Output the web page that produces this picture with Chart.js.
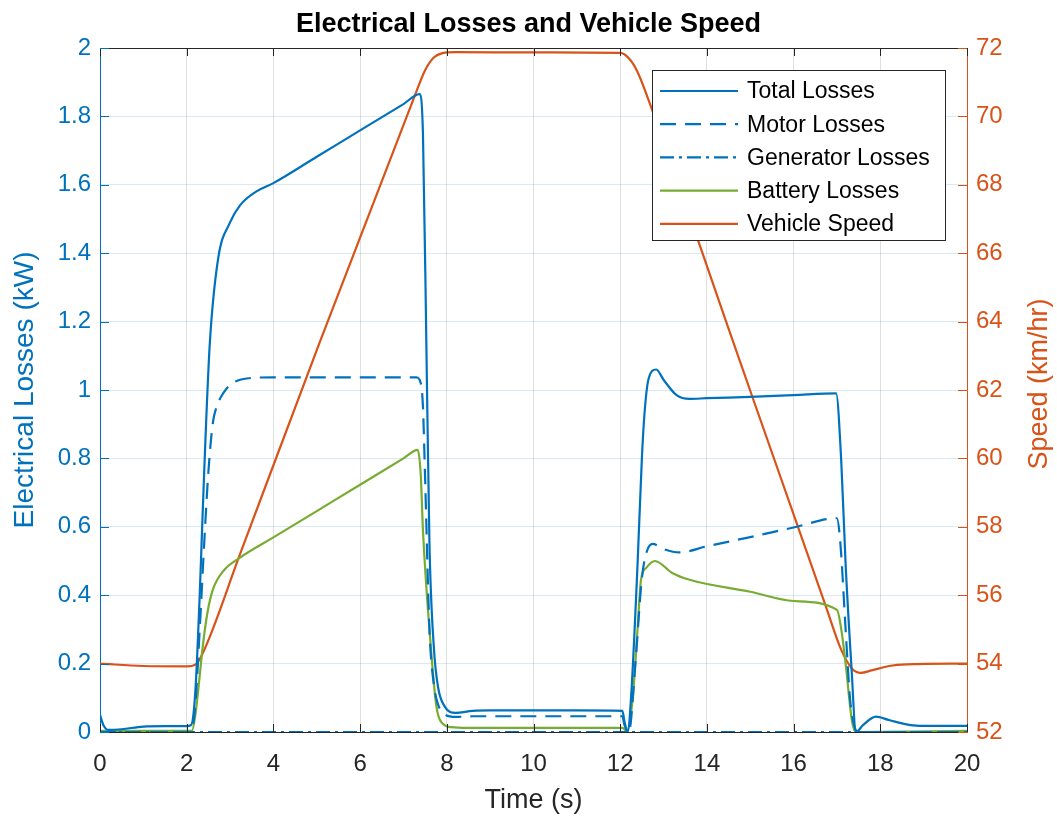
<!DOCTYPE html>
<html>
<head>
<meta charset="utf-8">
<title>Electrical Losses and Vehicle Speed</title>
<script src="https://cdn.jsdelivr.net/npm/chart.js@4.4.1/dist/chart.umd.min.js"></script>
<style>
  body { margin: 0; background: #fff; }
</style>
</head>
<body>
<canvas id="lossChart" width="1057" height="823"></canvas>
<script>
// Series data
const timeTotal = [0, 0.08, 0.2, 0.5, 1.0, 1.5, 2.0, 2.1, 2.2, 2.3, 2.4, 2.53, 2.72, 3.0, 3.23, 3.6, 4.0, 5.0, 6.0, 7.0,
    7.37, 7.45, 7.53, 7.6, 7.7, 7.8, 7.95, 8.2, 8.6, 9, 10, 11, 12.05, 12.1, 12.17, 12.25, 12.4, 12.5, 12.56, 12.65,
    12.83, 13.0, 13.3, 13.6, 14, 15, 16, 16.98, 17.1, 17.2, 17.33, 17.44, 17.6, 17.9, 18.2, 18.7, 19, 20];
const totalLosses = [0.05, 0.02, 0.006, 0.008, 0.016, 0.017, 0.017, 0.02, 0.12, 0.4, 0.75, 1.13, 1.38, 1.49, 1.54, 1.58, 1.605, 1.682, 1.759, 1.836,
    1.865, 1.75, 1.12, 0.55, 0.25, 0.13, 0.075, 0.056, 0.062, 0.063, 0.063, 0.063, 0.062, 0.03, 0.0, 0.1, 0.49, 0.80, 0.93, 1.03,
    1.06, 1.03, 0.985, 0.974, 0.976, 0.98, 0.985, 0.99, 0.79, 0.49, 0.2, 0.0, 0.02, 0.045, 0.035, 0.02, 0.018, 0.018];

const timeMotor = [0, 2.1, 2.2, 2.3, 2.42, 2.5, 2.6, 2.72, 2.84, 3.0, 3.23, 3.6, 4, 7.3, 7.4, 7.45, 7.5, 7.6, 7.7, 7.8,
    7.95, 8.2, 8.6, 12.05, 12.1, 12.2, 12.35, 12.5, 12.62, 12.75, 13.0, 13.36, 14, 15, 16, 17.0, 17.08, 17.2, 17.3, 17.42, 17.5, 20];
const motorLosses = [0, 0, 0.08, 0.3, 0.59, 0.76, 0.90, 0.96, 0.99, 1.015, 1.03, 1.036, 1.037, 1.037, 1.02, 0.95, 0.74, 0.3, 0.14, 0.08,
    0.052, 0.044, 0.046, 0.046, 0.02, 0.0, 0.2, 0.45, 0.53, 0.55, 0.535, 0.525, 0.543, 0.57, 0.598, 0.625, 0.55, 0.3, 0.1, 0.01, 0, 0];

const timeGenerator = [0, 20];
const generatorLosses = [0, 0];

const timeBattery = [0, 2.12, 2.2, 2.28, 2.37, 2.48, 2.6, 2.84, 3.23, 4, 5, 6, 7, 7.33, 7.4, 7.45, 7.6, 7.76, 7.9, 8.1,
    8.5, 12.05, 12.15, 12.29, 12.4, 12.48, 12.6, 12.8, 13.2, 13.6, 15, 16, 17.0, 17.1, 17.2, 17.35, 17.45, 20];
const batteryLosses = [0.003, 0.003, 0.05, 0.14, 0.25, 0.35, 0.415, 0.47, 0.51, 0.569, 0.646, 0.723, 0.80, 0.825, 0.75, 0.59, 0.3, 0.075, 0.025, 0.014,
    0.012, 0.012, 0.003, 0.1, 0.3, 0.445, 0.48, 0.50, 0.465, 0.445, 0.41, 0.383, 0.357, 0.3, 0.2, 0.03, 0.0, 0.003];

const timeSpeed = [0, 1.0, 2.0, 2.2, 2.35, 3.23, 5.07, 7.26, 7.5, 7.7, 7.9, 8.2, 10, 12.0, 12.2, 12.4, 12.72, 14.58, 16.75, 17.1,
    17.35, 17.55, 17.8, 18.2, 18.6, 20];
const vehicleSpeed = [54.0, 53.93, 53.92, 53.97, 54.25, 57.2, 63.4, 70.6, 71.35, 71.72, 71.85, 71.88, 71.87, 71.86, 71.7, 71.3, 70.25, 63.5, 55.65, 54.4,
    53.85, 53.73, 53.8, 53.93, 53.98, 54.0];

// Axis ticks
const timeTicks = [0, 2, 4, 6, 8, 10, 12, 14, 16, 18, 20];
const lossTicks = [0, 0.2, 0.4, 0.6, 0.8, 1, 1.2, 1.4, 1.6, 1.8, 2];
const speedTicks = [52, 54, 56, 58, 60, 62, 64, 66, 68, 70, 72];

const BLUE = '#0072BD';
const ORANGE = '#D95319';
const GREEN = '#77AC30';
const DARK = '#262626';
const FONT = '"Liberation Sans", Arial, Helvetica, sans-serif';

function pairs(xs, ys) {
    return xs.map((x, i) => ({ x: x, y: ys[i] }));
}

function fixTicks(values) {
    return (scale) => {
        scale.ticks = values.map(v => ({ value: v }));
    };
}

// Inward tick marks, top box line and right axis title (MATLAB look)
const axesDecor = {
    id: 'axesDecor',
    afterDatasetsDraw(chart) {
        const { ctx, chartArea: a, scales } = chart;
        ctx.save();
        ctx.lineWidth = 1;

        ctx.strokeStyle = DARK;
        ctx.beginPath();
        ctx.moveTo(a.left, a.top + 0.5);
        ctx.lineTo(a.right, a.top + 0.5);
        timeTicks.forEach(v => {
            const px = Math.round(scales.x.getPixelForValue(v)) + 0.5;
            ctx.moveTo(px, a.bottom);
            ctx.lineTo(px, a.bottom - 8);
            ctx.moveTo(px, a.top);
            ctx.lineTo(px, a.top + 8);
        });
        ctx.stroke();

        ctx.strokeStyle = BLUE;
        ctx.beginPath();
        lossTicks.forEach(v => {
            const py = Math.round(scales.y.getPixelForValue(v)) + 0.5;
            ctx.moveTo(a.left, py);
            ctx.lineTo(a.left + 9, py);
        });
        ctx.stroke();

        ctx.strokeStyle = ORANGE;
        ctx.beginPath();
        speedTicks.forEach(v => {
            const py = Math.round(scales.y1.getPixelForValue(v)) + 0.5;
            ctx.moveTo(a.right, py);
            ctx.lineTo(a.right - 9, py);
        });
        ctx.stroke();

        // right axis label reads bottom to top
        ctx.translate(1040, 384);
        ctx.rotate(-Math.PI / 2);
        ctx.fillStyle = ORANGE;
        ctx.font = '27px ' + FONT;
        ctx.textAlign = 'center';
        ctx.textBaseline = 'middle';
        ctx.fillText('Speed (km/hr)', 0, 0);
        ctx.restore();
    }
};

// Legend box inside the axes, top right
const boxLegend = {
    id: 'boxLegend',
    afterDraw(chart) {
        const { ctx } = chart;
        const x0 = 652, y0 = 70, w = 293, h = 170;
        ctx.save();
        ctx.fillStyle = '#fff';
        ctx.fillRect(x0, y0, w, h);
        ctx.strokeStyle = DARK;
        ctx.lineWidth = 1;
        ctx.strokeRect(x0 + 0.5, y0 + 0.5, w, h);
        ctx.font = '23px ' + FONT;
        ctx.textBaseline = 'middle';
        chart.data.datasets.forEach((ds, i) => {
            const yy = y0 + 21 + i * 33.2;
            ctx.strokeStyle = ds.borderColor;
            ctx.lineWidth = ds.borderWidth;
            ctx.setLineDash(ds.borderDash || []);
            ctx.beginPath();
            ctx.moveTo(x0 + 8, yy);
            ctx.lineTo(x0 + 86, yy);
            ctx.stroke();
            ctx.setLineDash([]);
            ctx.fillStyle = '#000';
            ctx.fillText(ds.label, x0 + 95, yy + 1);
        });
        ctx.restore();
    }
};

const lineStyle = {
    borderWidth: 2.2,
    pointRadius: 0,
    cubicInterpolationMode: 'monotone',
    fill: false
};

const ctx = document.getElementById('lossChart').getContext('2d');
const lossChart = new Chart(ctx, {
    type: 'line',
    data: {
        datasets: [
            { ...lineStyle, label: 'Total Losses', data: pairs(timeTotal, totalLosses), borderColor: BLUE, yAxisID: 'y' },
            { ...lineStyle, label: 'Motor Losses', data: pairs(timeMotor, motorLosses), borderColor: BLUE, borderDash: [16, 9], yAxisID: 'y' },
            { ...lineStyle, label: 'Generator Losses', data: pairs(timeGenerator, generatorLosses), borderColor: BLUE, borderDash: [14, 5, 3, 5], yAxisID: 'y' },
            { ...lineStyle, label: 'Battery Losses', data: pairs(timeBattery, batteryLosses), borderColor: GREEN, yAxisID: 'y' },
            { ...lineStyle, label: 'Vehicle Speed', data: pairs(timeSpeed, vehicleSpeed), borderColor: ORANGE, yAxisID: 'y1' }
        ]
    },
    options: {
        responsive: false,
        animation: false,
        layout: { padding: 0 },
        plugins: {
            legend: { display: false },
            tooltip: { enabled: false },
            title: {
                display: true,
                text: 'Electrical Losses and Vehicle Speed',
                color: '#000',
                font: { family: FONT, size: 27, weight: 'bold' },
                padding: { top: 8, bottom: 7.6 }
            }
        },
        scales: {
            x: {
                type: 'linear',
                min: 0,
                max: 20,
                afterFit: (s) => { s.height = 91; },
                afterBuildTicks: fixTicks(timeTicks),
                grid: { color: 'rgba(38,38,38,0.15)', drawTicks: false },
                border: { color: DARK },
                ticks: { color: DARK, padding: 18, font: { family: FONT, size: 24 } },
                title: {
                    display: true,
                    text: 'Time (s)',
                    color: DARK,
                    font: { family: FONT, size: 27 },
                    padding: { top: 0, bottom: 6 }
                }
            },
            y: {
                type: 'linear',
                position: 'left',
                min: 0,
                max: 2,
                afterFit: (s) => { s.width = 100; },
                afterBuildTicks: fixTicks(lossTicks),
                grid: { color: 'rgba(0,114,189,0.15)', drawTicks: false },
                border: { color: BLUE },
                ticks: {
                    color: BLUE,
                    padding: 9,
                    font: { family: FONT, size: 24 },
                    callback: (v) => String(Math.round(v * 10) / 10)
                },
                title: {
                    display: true,
                    text: 'Electrical Losses (kW)',
                    color: BLUE,
                    font: { family: FONT, size: 28 },
                    padding: { top: 8, bottom: 0 }
                }
            },
            y1: {
                type: 'linear',
                position: 'right',
                min: 52,
                max: 72,
                afterFit: (s) => { s.width = 90; },
                afterBuildTicks: fixTicks(speedTicks),
                grid: { display: false, drawTicks: false },
                border: { color: ORANGE },
                ticks: { color: ORANGE, padding: 9, font: { family: FONT, size: 24 } }
            }
        }
    },
    plugins: [axesDecor, boxLegend]
});
</script>
</body>
</html>
